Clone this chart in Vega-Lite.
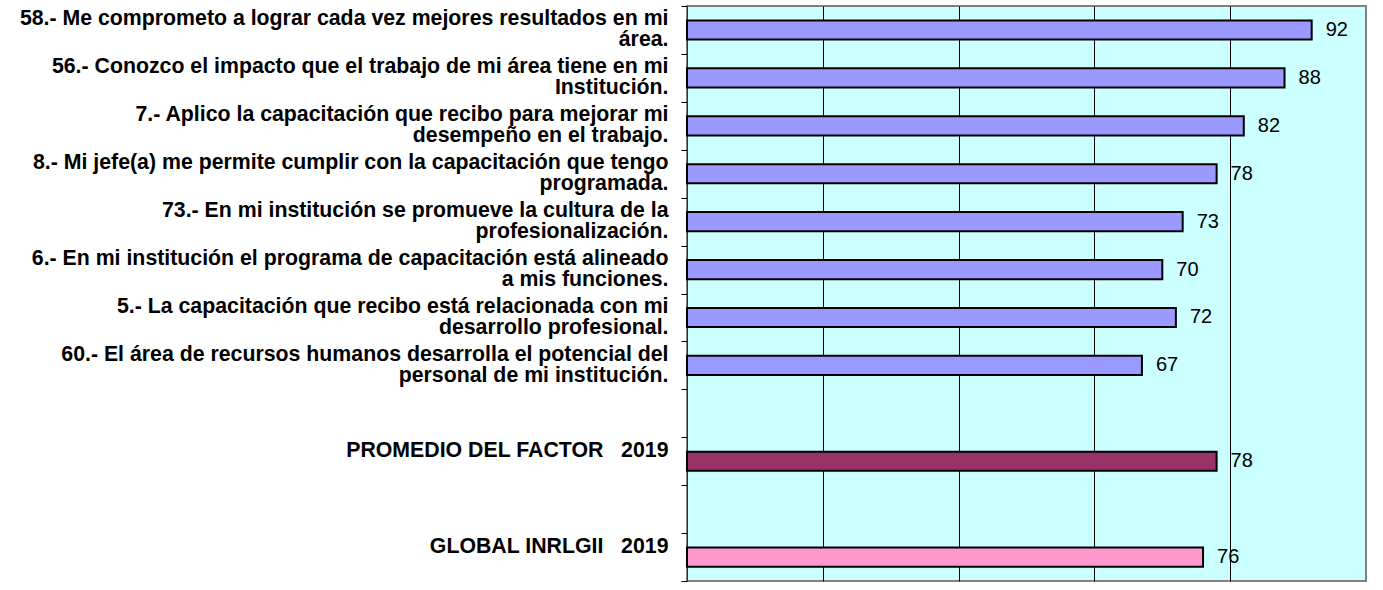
{
  "$schema": "https://vega.github.io/schema/vega-lite/v6.json",
  "width": 679,
  "height": 575,
  "autosize": {"type": "none"},
  "padding": {"left": 687, "top": 6, "right": 17, "bottom": 9},
  "background": "white",
  "config": {"view": {"fill": "#CCFFFF", "stroke": "#808080", "strokeWidth": 2}},
  "data": {
    "values": [
      {"q": "58.- Me comprometo a lograr cada vez mejores resultados en mi\nárea.", "v": 92, "grp": "item"},
      {"q": "56.- Conozco el impacto que el trabajo de mi área tiene en mi\nInstitución.", "v": 88, "grp": "item"},
      {"q": "7.- Aplico la capacitación que recibo para mejorar mi\ndesempeño en el trabajo.", "v": 82, "grp": "item"},
      {"q": "8.- Mi jefe(a) me permite cumplir con la capacitación que tengo\nprogramada.", "v": 78, "grp": "item"},
      {"q": "73.- En mi institución se promueve la cultura de la\nprofesionalización.", "v": 73, "grp": "item"},
      {"q": "6.- En mi institución el programa de capacitación está alineado\na mis funciones.", "v": 70, "grp": "item"},
      {"q": "5.- La capacitación que recibo está relacionada con mi\ndesarrollo profesional.", "v": 72, "grp": "item"},
      {"q": "60.- El área de recursos humanos desarrolla el potencial del\npersonal de mi institución.", "v": 67, "grp": "item"},
      {"q": "PROMEDIO DEL FACTOR\u00a0\u00a0\u00a02019", "v": 78, "grp": "promedio"},
      {"q": "GLOBAL INRLGII\u00a0\u00a0\u00a02019", "v": 76, "grp": "global"}
    ]
  },
  "encoding": {
    "y": {
      "field": "q",
      "type": "nominal",
      "title": null,
      "scale": {
        "domain": [
          "58.- Me comprometo a lograr cada vez mejores resultados en mi\nárea.",
          "56.- Conozco el impacto que el trabajo de mi área tiene en mi\nInstitución.",
          "7.- Aplico la capacitación que recibo para mejorar mi\ndesempeño en el trabajo.",
          "8.- Mi jefe(a) me permite cumplir con la capacitación que tengo\nprogramada.",
          "73.- En mi institución se promueve la cultura de la\nprofesionalización.",
          "6.- En mi institución el programa de capacitación está alineado\na mis funciones.",
          "5.- La capacitación que recibo está relacionada con mi\ndesarrollo profesional.",
          "60.- El área de recursos humanos desarrolla el potencial del\npersonal de mi institución.",
          "gap1",
          "PROMEDIO DEL FACTOR\u00a0\u00a0\u00a02019",
          "gap2",
          "GLOBAL INRLGII\u00a0\u00a0\u00a02019"
        ],
        "paddingInner": 0,
        "paddingOuter": 0
      },
      "axis": {
        "title": null,
        "grid": false,
        "tickBand": "extent",
        "tickSize": 6,
        "tickColor": "black",
        "domainColor": "#333333",
        "domainWidth": 1,
        "labelFont": "Liberation Sans",
        "labelFontWeight": "bold",
        "labelFontSize": 21.3,
        "labelColor": "black",
        "labelLimit": 800,
        "labelOverlap": false,
        "labelLineHeight": 21,
        "labelBaseline": "middle",
        "labelPadding": 13,
        "labelOffset": -11,
        "labelAlign": "right",
        "labelExpr": "(datum.value == 'gap1' || datum.value == 'gap2') ? '' : split(datum.label, '\\n')"
      }
    },
    "x": {
      "field": "v",
      "type": "quantitative",
      "scale": {"domain": [0, 100], "nice": false},
      "axis": {
        "title": null,
        "grid": true,
        "gridColor": "black",
        "gridWidth": 1,
        "gridOpacity": 1,
        "values": [20, 40, 60, 80],
        "labels": false,
        "ticks": false,
        "domain": false
      }
    }
  },
  "layer": [
    {
      "mark": {"type": "bar", "height": {"band": 0.4}, "stroke": "black", "strokeWidth": 2},
      "encoding": {
        "color": {
          "field": "grp",
          "type": "nominal",
          "scale": {"domain": ["item", "promedio", "global"], "range": ["#9999FF", "#993366", "#FF99CC"]},
          "legend": null
        }
      }
    },
    {
      "mark": {"type": "text", "align": "left", "baseline": "middle", "dx": 14, "font": "Liberation Sans", "fontSize": 20, "color": "black"},
      "encoding": {"text": {"field": "v", "type": "quantitative"}}
    }
  ]
}
